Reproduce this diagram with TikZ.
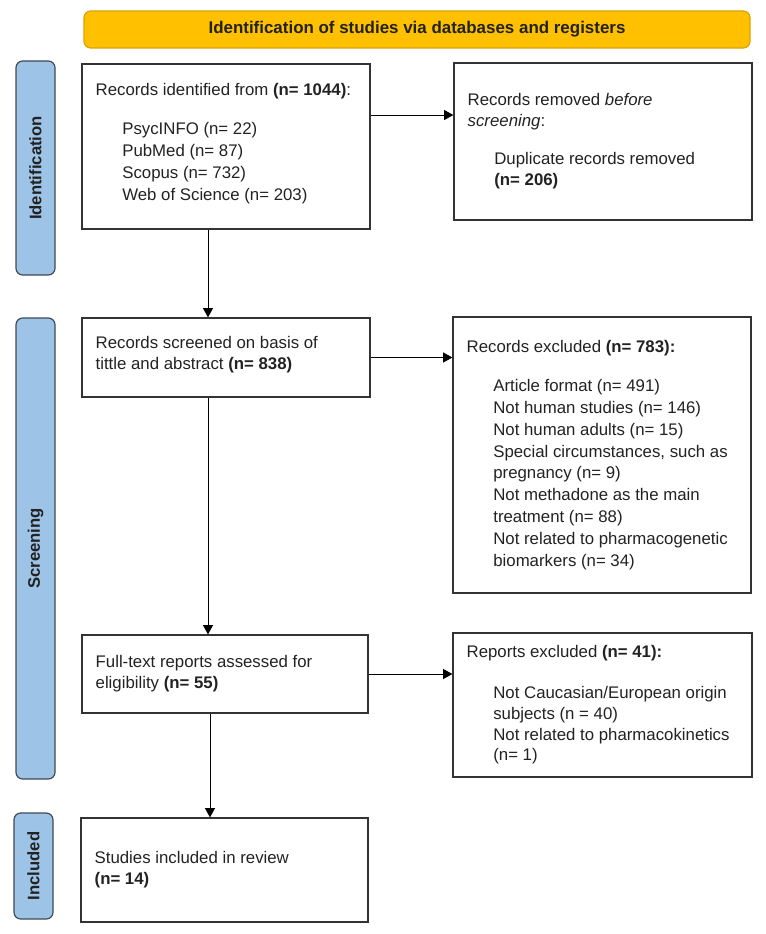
\documentclass[tikz,border=0pt]{standalone}
\usepackage{fontspec}
\setmainfont{Liberation Sans}
\usetikzlibrary{arrows.meta}
\definecolor{bannerfill}{HTML}{FFC000}
\definecolor{bannerline}{HTML}{D9A300}
\definecolor{barfill}{HTML}{9DC3E6}
\definecolor{barline}{HTML}{3F4A55}
\definecolor{boxline}{HTML}{333333}
\definecolor{inktext}{HTML}{222222}

\begin{document}
\begin{tikzpicture}[x=0.75pt,y=-0.75pt,
  box/.style={draw=boxline,line width=0.9pt,inner sep=0pt},
  txt/.style={anchor=west,align=left,inner sep=0pt,text=inktext,font=\fontsize{12.6}{15.6}\selectfont},
  side/.style={draw=barline,fill=barfill,line width=0.9pt,rounded corners=5pt,minimum width=29.25pt,inner sep=0pt},
  sidetxt/.style={rotate=90,text=inktext,font=\fontsize{12.5}{14}\selectfont\bfseries},
  arr/.style={-{Triangle[length=7pt,width=7.5pt]},line width=0.75pt}]
\useasboundingbox (0,0) rectangle (765,934);

% header band
\node[draw=bannerline,fill=bannerfill,line width=0.9pt,rounded corners=5pt,minimum width=499.5pt,minimum height=27.75pt,
      text=inktext,font=\fontsize{12.7}{14}\selectfont\bfseries] (banner) at (417,29.5)
      {Identification of studies via databases and registers};

% side bars
\node[side,minimum height=160.5pt] (identbar) at (35.5,168) {};
\node[side,minimum height=345.75pt] (screenbar) at (35.5,548.5) {};
\node[side,minimum height=79.5pt] (inclbar) at (33.5,866) {};
\node[sidetxt] (identlbl) at (identbar) {Identification};
\node[sidetxt] (screenlbl) at (screenbar) {Screening};
\node[sidetxt] (incllbl) at (inclbar) {Included};

% boxes
\node[box,minimum width=216pt,minimum height=123.75pt] (recid) at (226,146.5) {};
\node[box,minimum width=223.5pt,minimum height=117.75pt] (removed) at (603,141.5) {};
\node[box,minimum width=216pt,minimum height=59.25pt] (screened) at (226,357.5) {};
\node[box,minimum width=223.5pt,minimum height=207pt] (excluded) at (602,455) {};
\node[box,minimum width=214.5pt,minimum height=58.5pt] (fulltext) at (225,674) {};
\node[box,minimum width=224.25pt,minimum height=108pt] (repexcl) at (602.5,705) {};
\node[box,minimum width=215.25pt,minimum height=78pt] (included) at (224.5,870) {};

% texts
\node[txt,font=\fontsize{12.6}{16.4}\selectfont] (recid-t) at ([xshift=10.5pt,yshift=2pt]recid.west)
  {Records identified from \textbf{(n= 1044)}:\\[13pt]
   \hspace*{20pt}PsycINFO (n= 22)\\
   \hspace*{20pt}PubMed (n= 87)\\
   \hspace*{20pt}Scopus (n= 732)\\
   \hspace*{20pt}Web of Science (n= 203)};
\node[txt] (removed-t) at ([xshift=10.5pt]removed.west)
  {Records removed \textit{before}\\
   \textit{screening}:\\[13pt]
   \hspace*{20pt}Duplicate records removed\\
   \hspace*{20pt}\textbf{(n= 206)}};
\node[txt] (screened-t) at ([xshift=10.5pt,yshift=2pt]screened.west)
  {Records screened on basis of\\
   tittle and abstract \textbf{(n= 838)}};
\node[txt,font=\fontsize{12.6}{16.4}\selectfont] (excluded-t) at ([xshift=10.5pt]excluded.west)
  {Records excluded \textbf{(n= 783):}\\[13pt]
   \hspace*{20pt}Article format (n= 491)\\
   \hspace*{20pt}Not human studies (n= 146)\\
   \hspace*{20pt}Not human adults (n= 15)\\
   \hspace*{20pt}Special circumstances, such as\\
   \hspace*{20pt}pregnancy (n= 9)\\
   \hspace*{20pt}Not methadone as the main\\
   \hspace*{20pt}treatment (n= 88)\\
   \hspace*{20pt}Not related to pharmacogenetic\\
   \hspace*{20pt}biomarkers (n= 34)};
\node[txt] (fulltext-t) at ([xshift=10.5pt]fulltext.west)
  {Full-text reports assessed for\\
   eligibility \textbf{(n= 55)}};
\node[txt] (repexcl-t) at ([xshift=10.5pt]repexcl.west)
  {Reports excluded \textbf{(n= 41):}\\[15pt]
   \hspace*{20pt}Not Caucasian/European origin\\
   \hspace*{20pt}subjects (n = 40)\\
   \hspace*{20pt}Not related to pharmacokinetics\\
   \hspace*{20pt}(n= 1)};
\node[txt] (included-t) at ([xshift=10.5pt]included.west)
  {Studies included in review\\
   \textbf{(n= 14)}};

% arrows
\coordinate (spine) at (208,0);
\coordinate (spinelow) at (210,0);
\draw[arr] (spine |- recid.south) -- (spine |- screened.north);
\draw[arr] (spine |- screened.south) -- (spine |- fulltext.north);
\draw[arr] (spinelow |- fulltext.south) -- (spinelow |- included.north);
\draw[arr] ([yshift=23.6pt]recid.east) -- ([yshift=23.6pt]recid.east -| removed.west);
\draw[arr] (screened.east) -- (screened.east -| excluded.west);
\draw[arr] (fulltext.east) -- (fulltext.east -| repexcl.west);
\end{tikzpicture}
\end{document}
